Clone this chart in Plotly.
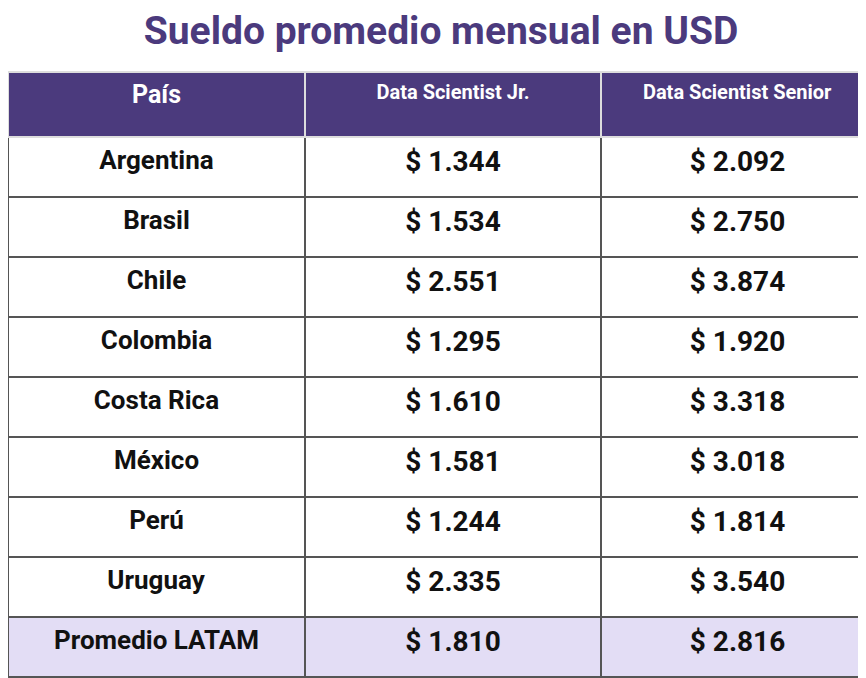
import plotly.graph_objects as go

paises = ["Argentina", "Brasil", "Chile", "Colombia", "Costa Rica", "México", "Perú", "Uruguay", "Promedio LATAM"]
jr = ["$ 1.344", "$ 1.534", "$ 2.551", "$ 1.295", "$ 1.610", "$ 1.581", "$ 1.244", "$ 2.335", "$ 1.810"]
senior = ["$ 2.092", "$ 2.750", "$ 3.874", "$ 1.920", "$ 3.318", "$ 3.018", "$ 1.814", "$ 3.540", "$ 2.816"]
headers = ["País", "Data Scientist Jr.", "Data Scientist Senior"]

purple = "#4b3a7d"
lav = "#e3ddf5"
fills = ["white"] * 8 + [lav]

fig = go.Figure(go.Table(
    columnwidth=[297, 296, 273],
    header=dict(
        values=["<b>" + h + "</b>" for h in headers],
        fill_color=purple, line_color="#dddddd", line_width=2,
        font=dict(family="Roboto", size=[25, 20, 20], color="white"),
        align="center", height=65,
    ),
    cells=dict(
        values=[["<b>" + p + "</b>" for p in paises], ["<b>" + v + "</b>" for v in jr],
                ["<b>" + v + "</b>" for v in senior]],
        fill_color=[fills] * 3, line_color="#555555", line_width=2,
        font=dict(family="Roboto", size=[26, 28, 28], color="#111111"),
        align="center", height=60,
    ),
))

fig.update_layout(
    width=866, height=678,
    margin=dict(l=0, r=0, t=64, b=0),
    paper_bgcolor="white",
    title=dict(text="<b>Sueldo promedio mensual en USD</b>", x=0.5, y=0.967, yanchor="middle",
               font=dict(family="Roboto", size=39, color=purple)),
)
fig.write_html("out.html")
